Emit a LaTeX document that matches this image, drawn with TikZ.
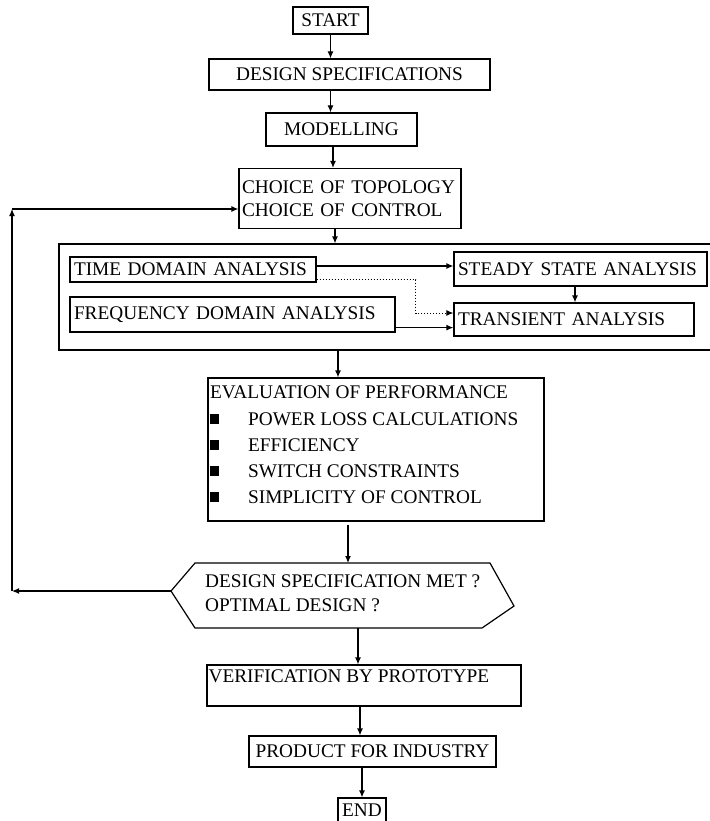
\documentclass[tikz,border=0pt]{standalone}
\usepackage{fontspec}
\setmainfont{Liberation Serif}
\usetikzlibrary{arrows.meta,calc}
\begin{document}
\begin{tikzpicture}[x=1pt,y=-1pt,
  font=\fontsize{19.3}{24}\selectfont,
  box/.style={draw, line width=1.2pt, inner sep=0pt},
  lbox/.style={box, align=left, inner xsep=4pt},
  arr/.style={line width=1.2pt, -{Latex[length=7pt,width=6pt]}},
  dotline/.style={line width=1pt, dash pattern=on 1pt off 2pt, -{Latex[length=7pt,width=6pt]}},
  bul/.style={}]
\fill[white] (0,0) rectangle (709,821);
\useasboundingbox (0,0) rectangle (709,821);

% boxes
\node[box, minimum width=75, minimum height=27] (start) at (330.5,20.5) {START};
\node[box, minimum width=281, minimum height=31] (spec) at (349.5,74.5) {DESIGN SPECIFICATIONS};
\node[box, minimum width=151, minimum height=33] (model) at (341.5,129.5) {MODELLING};
\node[lbox, inner xsep=3pt, text width=216, minimum height=60, font=\fontsize{19.3}{23}\selectfont] (choice) at (350,198.5) {CHOICE OF TOPOLOGY\\CHOICE OF CONTROL};

\node[box, minimum width=661, minimum height=106] (panel) at (389.5,297) {};
\node[lbox, text width=238, minimum height=25] (time) at (193,269.5) {TIME DOMAIN ANALYSIS};
\node[lbox, text width=245, minimum height=34] (steady) at (580.5,269) {STEADY STATE ANALYSIS};
\node[lbox, text width=317, minimum height=35] (freq) at (232.5,314.5) {FREQUENCY DOMAIN ANALYSIS};
\node[lbox, text width=232, minimum height=33] (trans) at (574,319.5) {TRANSIENT ANALYSIS};

\node[box, minimum width=336, minimum height=143,
  label={[anchor=north west, align=left, inner sep=0pt, xshift=2.5pt, yshift=-8.6pt,
          font=\fontsize{19.3}{26.2}\selectfont]north west:EVALUATION OF PERFORMANCE\\
          \makebox[38pt][l]{\rule[1.5pt]{9pt}{10pt}}POWER LOSS CALCULATIONS\\
          \makebox[38pt][l]{\rule[1.5pt]{9pt}{10pt}}EFFICIENCY\\
          \makebox[38pt][l]{\rule[1.5pt]{9pt}{10pt}}SWITCH CONSTRAINTS\\
          \makebox[38pt][l]{\rule[1.5pt]{9pt}{10pt}}SIMPLICITY OF CONTROL}] (eval) at (376,449.5) {};

% decision hexagon
\coordinate (hexL) at (171,591);
\coordinate (hexT) at (348,563);
\coordinate (hexB) at (358,628);
\draw[line width=1.2pt] (hexL) -- (195,563) -- (490,563) -- (514,606) -- (482,628) -- (195,628) -- cycle;
\node[anchor=west, align=left, inner sep=0pt] (dec) at (205,593) {DESIGN SPECIFICATION MET ?\\OPTIMAL DESIGN ?};

\node[box, minimum width=314, minimum height=41,
  label={[anchor=north west, inner sep=0pt, xshift=2pt, yshift=-5.6pt]north west:VERIFICATION BY PROTOTYPE}] (verify) at (364,685.5) {};
\node[box, minimum width=247, minimum height=31] (product) at (372.5,751.5) {PRODUCT FOR INDUSTRY};
\node[box, minimum width=48, minimum height=24] (end) at (362,810) {END};

% connectors
\draw[arr] (start.south) -- (start.south |- spec.north);
\draw[arr] (start.south |- spec.south) -- (start.south |- model.north);
\draw[arr] ([xshift=-8.5pt]model.south) -- ([xshift=-17pt]choice.north);
\draw[arr] ([xshift=-15pt]choice.south) -- ([xshift=-15pt]choice.south |- panel.north);

\draw[arr] ([yshift=3.5pt]time.east) -- ([yshift=3.5pt]time.east -| steady.west);
\draw[dotline] ([yshift=3pt]time.south east) -- ++(99,0) |- ([yshift=6.5pt]trans.west);
\draw[arr] ([yshift=5pt]freq.south east) -- ([yshift=5pt]freq.south east -| trans.west);
\draw[arr] ([xshift=-5.5pt]steady.south) -- ([xshift=-5.5pt]steady.south |- trans.north);

\draw[arr] ([xshift=-51.5pt]panel.south) -- ([xshift=-38pt]eval.north);
\draw[arr] ([xshift=-28pt,yshift=-3pt]eval.south) -- (hexT);
\draw[arr] (hexB) -- ([xshift=-6pt]verify.north);
\draw[arr] ([xshift=-4pt]verify.south) -- ([xshift=-12.5pt]product.north);
\draw[arr] ([xshift=-10.5pt]product.south) -- (end.north);

% feedback loop
\coordinate (fbA) at (12,591);
\coordinate (fbB) at (12,209);
\draw[arr] (hexL) -- (fbA);
\draw[arr] (fbA) -- (fbB);
\draw[arr] (fbB) -- (fbB -| choice.west);
\end{tikzpicture}
\end{document}
